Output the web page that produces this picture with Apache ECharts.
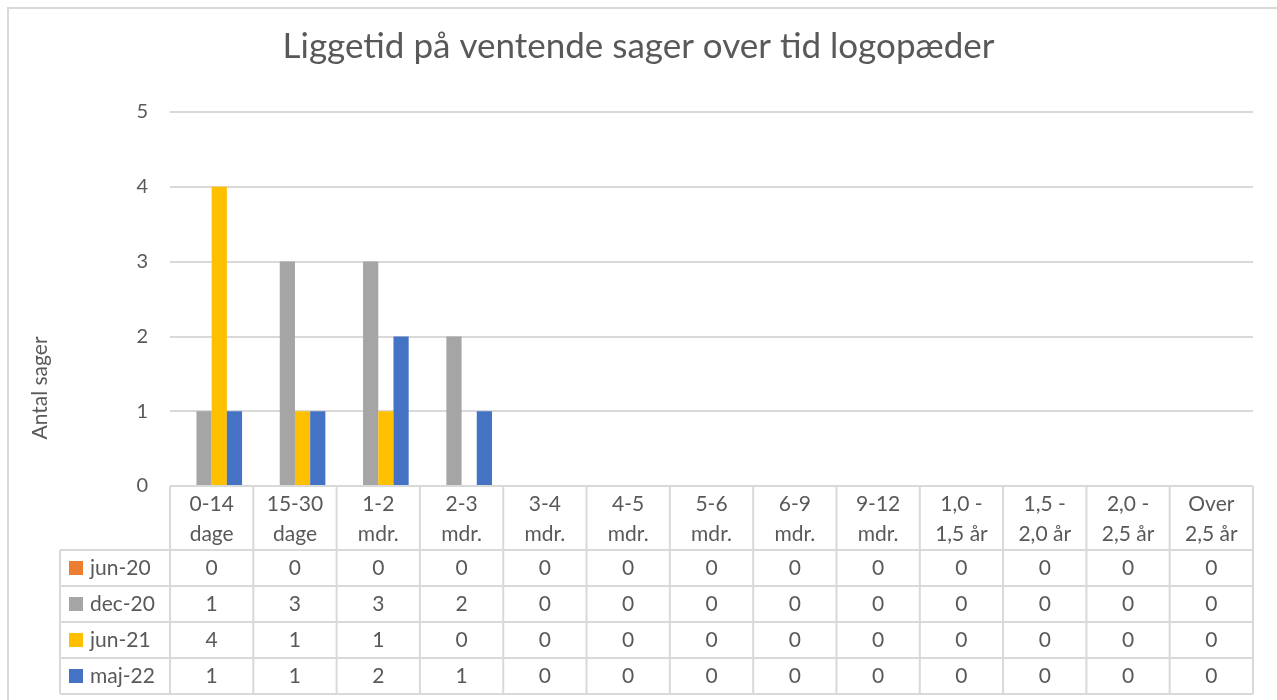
<!DOCTYPE html>
<html>
<head>
<meta charset="utf-8">
<script src="https://cdn.jsdelivr.net/npm/echarts@6/dist/echarts.min.js"></script>
<style>
  html, body { margin: 0; padding: 0; background: #fff; }
  #chart { width: 1277px; height: 700px; }
</style>
</head>
<body>
<div id="chart"></div>
<script>
// data
const categories = ['0-14\ndage', '15-30\ndage', '1-2\nmdr.', '2-3\nmdr.', '3-4\nmdr.', '4-5\nmdr.', '5-6\nmdr.',
  '6-9\nmdr.', '9-12\nmdr.', '1,0 -\n1,5 år', '1,5 -\n2,0 år', '2,0 -\n2,5 år', 'Over\n2,5 år']
const seriesNames = ['jun-20', 'dec-20', 'jun-21', 'maj-22']
const jun20 = [0, 0, 0, 0, 0, 0, 0, 0, 0, 0, 0, 0, 0]
const dec20 = [1, 3, 3, 2, 0, 0, 0, 0, 0, 0, 0, 0, 0]
const jun21 = [4, 1, 1, 0, 0, 0, 0, 0, 0, 0, 0, 0, 0]
const maj22 = [1, 1, 2, 1, 0, 0, 0, 0, 0, 0, 0, 0, 0]
const seriesValues = [jun20, dec20, jun21, maj22]
const yMax = 5

const colors = ['#ED7D31', '#A5A5A5', '#FFC000', '#4472C4']
const textColor = '#595959'
const lineColor = '#D9D9D9'
const fontFamily = 'Lato, "Open Sans", sans-serif'

const chart = echarts.init(document.getElementById('chart'))

chart.setOption({
  animation: false,
  color: colors,
  textStyle: { fontFamily: fontFamily },
  title: {
    text: 'Liggetid på ventende sager over tid logopæder',
    left: 'center',
    top: 24,
    textStyle: { fontSize: 35, fontWeight: 'normal', color: textColor, fontFamily: fontFamily }
  },
  grid: { left: 170, right: 24, top: 112, bottom: 214 },
  xAxis: {
    type: 'category',
    data: categories,
    axisLine: { show: false },
    axisTick: { show: false },
    axisLabel: { show: false }
  },
  yAxis: {
    type: 'value',
    min: 0,
    max: yMax,
    interval: 1,
    axisLine: { show: false },
    axisTick: { show: false },
    axisLabel: { fontSize: 20, color: textColor, margin: 22, padding: [6, 0, 0, 0] },
    splitLine: { lineStyle: { color: lineColor, width: 2 } }
  },
  series: seriesNames.map((name, i) => ({
    name: name,
    type: 'bar',
    data: seriesValues[i],
    barGap: '0%',
    barCategoryGap: '27%'
  }))
})

// data table under the plot, laid out from the axis scale
function buildTable () {
  const c0 = chart.convertToPixel({ xAxisIndex: 0 }, 0)
  const c1 = chart.convertToPixel({ xAxisIndex: 0 }, 1)
  const bw = c1 - c0
  const left = c0 - bw / 2
  const right = left + bw * categories.length
  const top = chart.convertToPixel({ yAxisIndex: 0 }, 0)
  const headerH = 64
  const rowH = 36
  const legendLeft = 60
  const bottom = top + headerH + rowH * seriesNames.length
  const els = []
  const line = (x1, y1, x2, y2) => els.push({
    type: 'line', silent: true, z: 5,
    shape: { x1, y1, x2, y2 },
    style: { stroke: lineColor, lineWidth: 2 }
  })
  const text = (x, y, t, align) => els.push({
    type: 'text', silent: true, z: 6,
    x, y,
    style: {
      text: t, fill: textColor, font: '21px ' + fontFamily,
      align: align || 'center', verticalAlign: 'middle', lineHeight: 30
    }
  })

  // chart area border
  els.push({
    type: 'rect', silent: true, z: 0,
    shape: { x: 8, y: 8, width: 1300, height: 720 },
    style: { fill: null, stroke: lineColor, lineWidth: 2 }
  })

  line(left, top, right, top)
  for (let r = 0; r <= seriesNames.length; r++) {
    const y = top + headerH + r * rowH
    line(legendLeft, y, right, y)
  }
  for (let i = 0; i <= categories.length; i++) {
    const x = left + i * bw
    line(x, top, x, bottom)
  }
  line(legendLeft, top + headerH, legendLeft, bottom)

  categories.forEach((c, i) => {
    text(left + (i + 0.5) * bw, top + headerH / 2 + 1, c)
  })
  seriesNames.forEach((name, r) => {
    const cy = top + headerH + (r + 0.5) * rowH
    els.push({
      type: 'rect', silent: true, z: 6,
      shape: { x: legendLeft + 9, y: cy - 7, width: 14, height: 14 },
      style: { fill: colors[r] }
    })
    text(legendLeft + 30, cy, name, 'left')
    seriesValues[r].forEach((v, i) => {
      text(left + (i + 0.5) * bw, cy, String(v))
    })
  })

  // axis title
  els.push({
    type: 'text', silent: true, z: 6,
    x: 40, y: 388, rotation: Math.PI / 2,
    style: { text: 'Antal sager', fill: textColor, font: '21px ' + fontFamily, align: 'center', verticalAlign: 'middle' }
  })

  chart.setOption({ graphic: els })
}

buildTable()
</script>
</body>
</html>
